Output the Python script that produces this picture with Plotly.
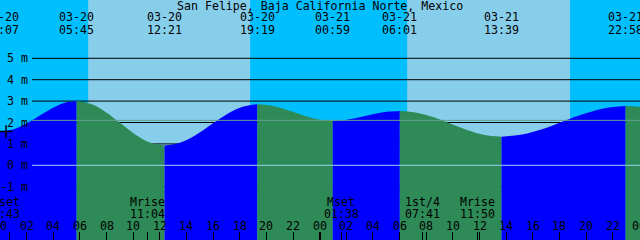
import plotly.graph_objects as go

# ---------------- data ----------------
title = "San Felipe, Baja California Norte, Mexico"

# tide extremes (date, time, level in m)
extreme_dates = ["03-20", "03-20", "03-20", "03-20", "03-21", "03-21", "03-21", "03-21"]
extreme_times = ["00:07", "05:45", "12:21", "19:19", "00:59", "06:01", "13:39", "22:58"]

# tide level samples (hours since 03-20 00:00, metres)
tide_hours = [0.0, 0.117, 1.056, 1.995, 2.934, 3.873, 4.811, 5.75,
              6.85, 7.95, 9.05, 10.15, 11.25, 12.35,
              13.51, 14.67, 15.83, 17.0, 18.16, 19.317,
              20.26, 21.21, 22.15, 23.09, 24.04, 24.983,
              25.82, 26.66, 27.5, 28.34, 29.18, 30.017,
              31.29, 32.56, 33.83, 35.11, 36.38, 37.65,
              39.2, 40.76, 42.31, 43.86, 45.41, 46.967,
              47.5, 48.1]
tide_levels = [1.60, 1.60, 1.69, 1.95, 2.30, 2.65, 2.91, 3.00,
               2.86, 2.48, 1.96, 1.44, 1.06, 0.92,
               1.05, 1.40, 1.89, 2.37, 2.72, 2.85,
               2.80, 2.66, 2.47, 2.27, 2.13, 2.08,
               2.11, 2.20, 2.31, 2.43, 2.51, 2.54,
               2.46, 2.24, 1.94, 1.64, 1.42, 1.34,
               1.44, 1.70, 2.06, 2.41, 2.67, 2.77,
               2.76, 2.73]

# daylight (hours since 03-20 00:00)
sunrise_hours = [6.62, 30.57]
sunset_hours = [18.78, 42.80]

# sun/moon events along the bottom
event_names = ["Mset", "Mrise", "Mset", "1st/4", "Mrise"]
event_dates = ["03-20", "03-20", "03-21", "03-21", "03-21"]
event_times = ["00:43", "11:04", "01:38", "07:41", "11:50"]

# axis labels
depth_levels = [5, 4, 3, 2, 1, 0, -1]
depth_labels = ["5 m", "4 m", "3 m", "2 m", "1 m", "0 m", "-1 m"]
hour_ticks = list(range(0, 49, 2))
hour_labels = ["%02d" % (h % 24) for h in hour_ticks]
midnight_ticks = [0, 24, 48]

msl_level = 2.10
datum_level = 0.0
now_hour, now_level = 0.45, 1.58

# ---------------- style ----------------
NIGHT = "#00BFFF"
DAY = "#87CEEB"
RISE = "#0000FF"
FALL = "#2E8B57"
MSL_COLOR = "#62A08C"
DATUM_COLOR = "#9CCFEF"
FONT = dict(family="DejaVu Sans Mono", size=11.6, color="black")
W, H = 640, 240
YMIN, YMAX = -3.49, 7.724
XMIN, XMAX = 0.0, 48.05


def to_hours(date, hm):
    day = int(date.split("-")[1]) - 20
    h, m = hm.split(":")
    return day * 24 + int(h) + int(m) / 60.0


def py(pix):
    return 1 - pix / H


fig = go.Figure()

# water: split into rising / falling segments
n = len(tide_levels)
segs = []
cur = [0]
prev = None
for i in range(1, n):
    d = tide_levels[i] >= tide_levels[i - 1]
    if prev is None or d == prev:
        cur.append(i)
    else:
        segs.append((prev, cur))
        cur = [i - 1, i]
    prev = d
segs.append((prev, cur))

for rising, idx in segs:
    xs = [tide_hours[i] for i in idx]
    ys = [tide_levels[i] for i in idx]
    fig.add_trace(go.Scatter(x=[xs[0], xs[-1]], y=[YMIN, YMIN], mode="lines",
                             line=dict(width=0), hoverinfo="skip", showlegend=False))
    fig.add_trace(go.Scatter(x=xs, y=ys, mode="lines", fill="tonexty",
                             fillcolor=RISE if rising else FALL,
                             line=dict(width=0, shape="spline", color=RISE if rising else FALL),
                             hoverinfo="skip", showlegend=False))

# current level marker
fig.add_trace(go.Scatter(x=[now_hour], y=[now_level], mode="markers",
                         marker=dict(symbol="cross-thin", size=9,
                                     line=dict(color="black", width=1.5)),
                         showlegend=False, hoverinfo="skip"))

shapes = []
for a, b in zip(sunrise_hours, sunset_hours):
    shapes.append(dict(type="rect", xref="x", yref="paper", x0=a, x1=b, y0=0, y1=1,
                       fillcolor=DAY, line=dict(width=0), layer="below"))
for lv in depth_levels:
    shapes.append(dict(type="line", xref="paper", yref="y", x0=32 / W, x1=1, y0=lv, y1=lv,
                       line=dict(color="black", width=1), layer="between"))
shapes.append(dict(type="line", xref="paper", yref="y", x0=32 / W, x1=1, y0=msl_level, y1=msl_level,
                   line=dict(color=MSL_COLOR, width=1), layer="above"))
shapes.append(dict(type="line", xref="paper", yref="y", x0=32 / W, x1=1, y0=datum_level, y1=datum_level,
                   line=dict(color=DATUM_COLOR, width=1), layer="above"))

ann = []


def label(text, x, ypix, xref="x", xanchor="center", xshift=0, align="center"):
    ann.append(dict(text=text, x=x, y=py(ypix), xref=xref, yref="paper",
                    xanchor=xanchor, yanchor="middle", showarrow=False,
                    font=FONT, xshift=xshift, align=align, borderpad=0))


label(title, 0.5, 5.5, xref="paper")
for d, t in zip(extreme_dates, extreme_times):
    hx = to_hours(d, t)
    label(d, hx, 17)
    label(t, hx, 29.5)
for k, (nm, d, t) in enumerate(zip(event_names, event_dates, event_times)):
    hx = to_hours(d, t)
    if k == 0:
        label(nm, hx, 202, xanchor="right", xshift=11)
        label(t, hx, 213.7, xanchor="right", xshift=11)
    else:
        label(nm, hx, 202)
        label(t, hx, 213.7)
for h, lab in zip(hour_ticks, hour_labels):
    label(lab, h, 225.5)
for lv, lab in zip(depth_levels, depth_labels):
    ann.append(dict(text=lab, x=28.8 / W, y=lv, xref="paper", yref="y",
                    xanchor="right", yanchor="middle", showarrow=False,
                    font=FONT, borderpad=0))

event_hours = [to_hours(d, t) for d, t in zip(event_dates, event_times)]

axis_common = dict(range=[XMIN, XMAX], showgrid=False, zeroline=False,
                   showticklabels=False, ticks="inside", ticklen=8, tickcolor="black",
                   tickmode="array", showline=False)

fig.update_layout(
    width=W, height=H, margin=dict(l=0, r=0, t=0, b=0),
    paper_bgcolor=NIGHT, plot_bgcolor=NIGHT,
    showlegend=False,
    xaxis=dict(**axis_common, tickvals=hour_ticks, tickwidth=1),
    xaxis2=dict(**axis_common, tickvals=midnight_ticks, tickwidth=2, overlaying="x", anchor="y"),
    xaxis3=dict(**axis_common, tickvals=event_hours, tickwidth=1, overlaying="x", anchor="y"),
    yaxis=dict(range=[YMIN, YMAX], visible=False),
    shapes=shapes, annotations=ann,
)
# dummy traces so the overlay axes are drawn
fig.add_trace(go.Scatter(x=[XMIN], y=[YMIN], xaxis="x2", mode="markers",
                         marker=dict(opacity=0), showlegend=False, hoverinfo="skip"))
fig.add_trace(go.Scatter(x=[XMIN], y=[YMIN], xaxis="x3", mode="markers",
                         marker=dict(opacity=0), showlegend=False, hoverinfo="skip"))

fig.write_html("out.html")
